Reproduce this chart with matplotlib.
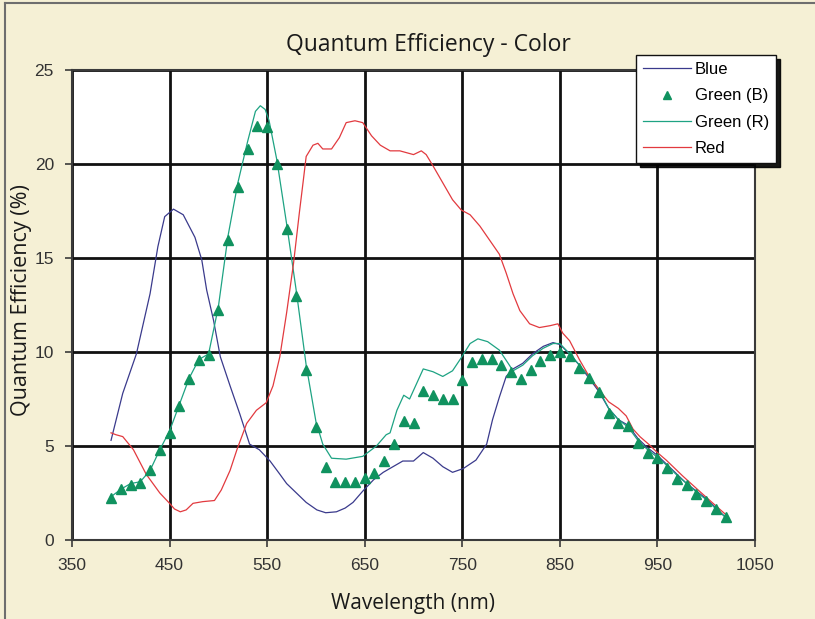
import matplotlib.pyplot as plt
from matplotlib.lines import Line2D

# Blue pixel curve
blue_nm = [390, 402, 416, 430, 438, 445, 454, 464, 476, 483, 488, 495, 502, 512,
           522, 532, 542, 553, 563, 570, 580, 590, 601, 610, 621, 630, 638, 648,
           659, 669, 679, 689, 700, 710, 720, 730, 740, 751, 764, 775, 781, 788,
           795, 802, 812, 822, 833, 843, 850, 860, 870, 880, 890, 900, 910, 920,
           930, 940, 950, 960, 970, 980, 990, 1000, 1010, 1020]
blue_qe = [5.3, 7.8, 9.9, 13.1, 15.6, 17.2, 17.6, 17.3, 16.1, 14.9, 13.3, 11.7, 9.75, 8.2,
           6.7, 5.1, 4.8, 4.2, 3.5, 3.0, 2.5, 2.0, 1.6, 1.45, 1.5, 1.7, 2.0, 2.6,
           3.2, 3.6, 3.9, 4.2, 4.2, 4.65, 4.35, 3.9, 3.6, 3.8, 4.25, 5.1, 6.4, 7.6,
           8.7, 9.1, 9.4, 9.9, 10.3, 10.5, 10.4, 9.9, 9.3, 8.6, 7.9, 7.0, 6.4, 6.1,
           5.4, 4.9, 4.5, 4.0, 3.5, 3.0, 2.6, 2.2, 1.7, 1.2]

# Green (B) - measured points every 10 nm
greenb_nm = [390, 400, 410, 420, 430, 440, 450, 460, 470, 480,
             490, 500, 510, 520, 530, 540, 550, 560, 570, 580,
             590, 600, 610, 620, 630, 640, 650, 660, 670, 680,
             690, 700, 710, 720, 730, 740, 750, 760, 770, 780,
             790, 800, 810, 820, 830, 840, 850, 860, 870, 880,
             890, 900, 910, 920, 930, 940, 950, 960, 970, 980,
             990, 1000, 1010, 1020]
greenb_qe = [2.25, 2.7, 2.95, 3.05, 3.7, 4.8, 5.7, 7.15, 8.55, 9.55,
             9.85, 12.25, 15.95, 18.8, 20.8, 22.0, 21.95, 20.0, 16.55, 13.0,
             9.05, 6.0, 3.9, 3.1, 3.07, 3.07, 3.3, 3.55, 4.2, 5.1,
             6.35, 6.2, 7.9, 7.7, 7.5, 7.5, 8.5, 9.45, 9.65, 9.65,
             9.3, 8.95, 8.55, 9.05, 9.5, 9.85, 10.0, 9.8, 9.15, 8.6,
             7.85, 6.75, 6.25, 6.05, 5.15, 4.65, 4.35, 3.85, 3.25, 2.95,
             2.45, 2.1, 1.65, 1.2]

# Green (R) pixel curve
greenr_nm = [390, 400, 410, 420, 430, 440, 450, 460, 470, 480, 490, 500, 510, 520,
             530, 538, 543, 548, 552, 560, 570, 580, 590, 600, 607, 616, 631, 648,
             662, 672, 676, 683, 690, 696, 703, 710, 720, 730, 740, 749, 758, 766,
             776, 788, 797, 802, 812, 822, 833, 843, 850, 860, 870, 880, 890, 900,
             910, 920, 930, 940, 950, 960, 970, 980, 990, 1000, 1010, 1020]
greenr_qe = [2.3, 2.7, 3.0, 3.1, 3.7, 4.8, 5.8, 7.2, 8.6, 9.6, 9.9, 12.4, 16.2, 19.0,
             21.2, 22.8, 23.1, 22.9, 22.3, 20.2, 16.8, 13.2, 9.3, 6.3, 5.1, 4.35, 4.3, 4.45,
             5.0, 5.6, 5.7, 6.9, 7.7, 7.5, 8.3, 9.1, 8.95, 8.7, 9.0, 9.7, 10.45, 10.7,
             10.55, 10.1, 9.4, 9.0, 9.3, 9.8, 10.2, 10.45, 10.45, 9.9, 9.3, 8.7, 8.0, 7.0,
             6.4, 6.0, 5.3, 4.8, 4.4, 3.95, 3.45, 3.0, 2.55, 2.15, 1.65, 1.2]

# Red pixel curve
red_nm = [390, 395, 402, 413, 426, 440, 450, 455, 461, 467, 474, 484, 496, 503,
          512, 519, 529, 539, 549, 556, 563, 570, 577, 583, 587, 590, 597, 602,
          607, 616, 624, 631, 640, 648, 657, 666, 676, 686, 693, 700, 708, 713,
          720, 730, 740, 749, 758, 768, 778, 788, 795, 802, 809, 819, 829, 840,
          848, 853, 860, 870, 880, 890, 900, 910, 918, 925, 932, 942, 950, 959,
          976, 993, 1007, 1019]
red_qe = [5.7, 5.6, 5.5, 4.8, 3.5, 2.5, 1.95, 1.65, 1.5, 1.6, 1.95, 2.04, 2.1, 2.66,
          3.7, 4.8, 6.2, 6.9, 7.3, 8.2, 9.75, 12.1, 14.7, 17.4, 19.1, 20.4, 21.0, 21.1,
          20.8, 20.8, 21.4, 22.2, 22.3, 22.2, 21.5, 21.0, 20.7, 20.7, 20.6, 20.5, 20.7, 20.5,
          19.9, 19.0, 18.1, 17.55, 17.3, 16.7, 15.95, 15.2, 14.2, 13.1, 12.2, 11.5, 11.3, 11.4,
          11.5, 11.0, 10.6, 9.6, 8.7, 8.0, 7.35, 7.0, 6.6, 5.9, 5.5, 5.05, 4.65, 4.25,
          3.4, 2.6, 1.95, 1.4]

x_ticks = [350, 450, 550, 650, 750, 850, 950, 1050]
y_ticks = [0, 5, 10, 15, 20, 25]

bg = '#f5f0d5'
fig = plt.figure(figsize=(8.15, 6.19), dpi=100, facecolor=bg)
ax = fig.add_axes([72 / 815, 79 / 619, 683 / 815, 470 / 619])
ax.set_facecolor('white')

ax.plot(blue_nm, blue_qe, color='#3a3a8c', lw=0.9, label='Blue', zorder=3)
ax.plot(greenb_nm, greenb_qe, ls='none', marker='^', ms=7, color='#10925f',
        label='Green (B)', zorder=4)
ax.plot(greenr_nm, greenr_qe, color='#1ea383', lw=0.9, label='Green (R)', zorder=3)
ax.plot(red_nm, red_qe, color='#e23a3f', lw=0.9, label='Red', zorder=3)

ax.set_xlim(350, 1050)
ax.set_ylim(0, 25)
ax.set_xticks(x_ticks)
ax.set_yticks(y_ticks)
ax.grid(True, color='#111111', lw=2.0, zorder=1)
ax.set_axisbelow(True)
for s in ax.spines.values():
    s.set_color('#3a3a3a')
    s.set_linewidth(1.5)
ax.tick_params(direction='out', length=5, width=1.2, color='#3a3a3a',
               labelsize=12.5, labelcolor='#333333', pad=8)
for lab in ax.get_xticklabels() + ax.get_yticklabels():
    lab.set_fontfamily('Liberation Sans')

fig.text(428 / 815, 1 - 45 / 619, 'Quantum Efficiency - Color', ha='center', va='center',
         fontsize=16.5, family='Open Sans', color='#1a1a1a')
fig.text(413 / 815, 1 - 603 / 619, 'Wavelength (nm)', ha='center', va='center',
         fontsize=15, family='Open Sans', color='#1a1a1a')
fig.text(22 / 815, 1 - 300 / 619, 'Quantum Efficiency (%)', ha='center', va='center',
         rotation=90, fontsize=15.5, family='Open Sans', color='#1a1a1a')

leg = ax.legend(loc='upper left', bbox_to_anchor=(636 / 815, 1 - 55 / 619),
                bbox_transform=fig.transFigure, borderaxespad=0, fancybox=False,
                framealpha=1, edgecolor='#111111', handlelength=2.9, handletextpad=0.2,
                labelspacing=0.68, borderpad=0.42, markerscale=0.8,
                prop={'family': 'Liberation Sans', 'size': 12},
                shadow={'color': 'black', 'alpha': 0.9, 'ox': 3.2, 'oy': -3.2})
leg.get_frame().set_linewidth(1.0)
leg.set_zorder(10)

# outer frame of the panel
fig.add_artist(Line2D([5 / 815, 1], [1 - 3 / 619, 1 - 3 / 619], color='#6e6e6e', lw=1.5,
                      transform=fig.transFigure))
fig.add_artist(Line2D([5 / 815, 5 / 815], [0, 1 - 3 / 619], color='#6e6e6e', lw=1.5,
                      transform=fig.transFigure))

fig.savefig('out.png', dpi=100, facecolor=bg)
